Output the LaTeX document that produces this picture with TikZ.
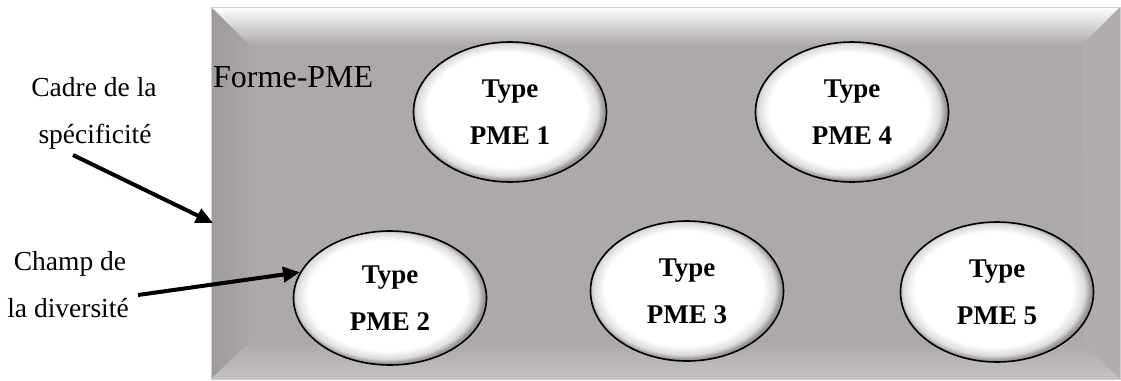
\documentclass[tikz,border=0pt]{standalone}
\usepackage{fontspec}
\setmainfont{Liberation Serif}
\usetikzlibrary{arrows.meta,shapes.geometric}

\definecolor{face}{HTML}{ADA9A8}
\definecolor{leftdark}{HTML}{9F9B9A}
\definecolor{leftlight}{HTML}{AAA6A5}
\definecolor{rightband}{HTML}{B1ADAC}
\definecolor{bottomlight}{HTML}{C6C2C1}
\definecolor{rimgray}{HTML}{9A9695}

% white oval with a thin soft grey rim, heavier towards the lower right
\pgfdeclareradialshading{pmeoval}{\pgfpoint{-1.5bp}{1.5bp}}{%
  color(0bp)=(white); color(20.5bp)=(white); color(23.5bp)=(black!14);
  color(25bp)=(rimgray); color(50bp)=(rimgray)}

\tikzset{
  pme/.style={ellipse, draw=black, line width=1.6pt, shade, shading=pmeoval,
    minimum width=193pt, minimum height=140pt, inner sep=0pt, align=center,
    font=\bfseries\fontsize{27}{47}\selectfont},
  lbl/.style={inner sep=0pt, font=\fontsize{27.5}{33}\selectfont},
  ptr/.style={line width=4pt, -{Triangle[length=17pt,width=15pt]}}
}

\begin{document}
\begin{tikzpicture}[x=1pt,y=-1pt]
\useasboundingbox (0,0) rectangle (1121,380);

% bevelled frame
\fill[face] (211,7) rectangle (1120,379);
\shade[top color=white, bottom color=face]
  (211,7) -- (1120,7) -- (1082,45) -- (249,45) -- cycle;
\shade[left color=leftdark, right color=leftlight]
  (211,7) -- (249,45) -- (249,343) -- (211,379) -- cycle;
\shade[top color=face, bottom color=bottomlight]
  (211,379) -- (249,343) -- (1084,343) -- (1120,379) -- cycle;
\fill[rightband]
  (1120,7) -- (1120,379) -- (1084,343) -- (1082,45) -- cycle;
\draw[black!20, line width=0.8pt] (211,7) rectangle (1120,379);

\node[anchor=base west, inner sep=0pt, font=\fontsize{32}{38}\selectfont]
  (forme) at (213,87) {Forme-PME};

% the five types
\node[pme] (p1) at (510,112) {Type\\PME 1};
\node[pme] (p4) at (852,112) {Type\\PME 4};
\node[pme, minimum height=134pt] (p2) at (390,298) {Type\\PME 2};
\node[pme] (p3) at (687,291) {Type\\PME 3};
\node[pme] (p5) at (997,292) {Type\\PME 5};

% side labels
\node[lbl, anchor=base] (cadreA) at (94,96) {Cadre de la};
\node[lbl, anchor=base] (cadreB) at (95,143) {spécificité};
\node[lbl, anchor=base] (champA) at (70,270) {Champ de};
\node[lbl, anchor=base] (champB) at (68,317) {la diversité};

% pointers
\coordinate (cadreTail) at (73,155);
\coordinate (frameEdge) at (213,223);
\coordinate (champTail) at (138,295);
\draw[ptr] (cadreTail) -- (frameEdge);
\draw[ptr] (champTail) -- (p2.164);
\end{tikzpicture}
\end{document}
